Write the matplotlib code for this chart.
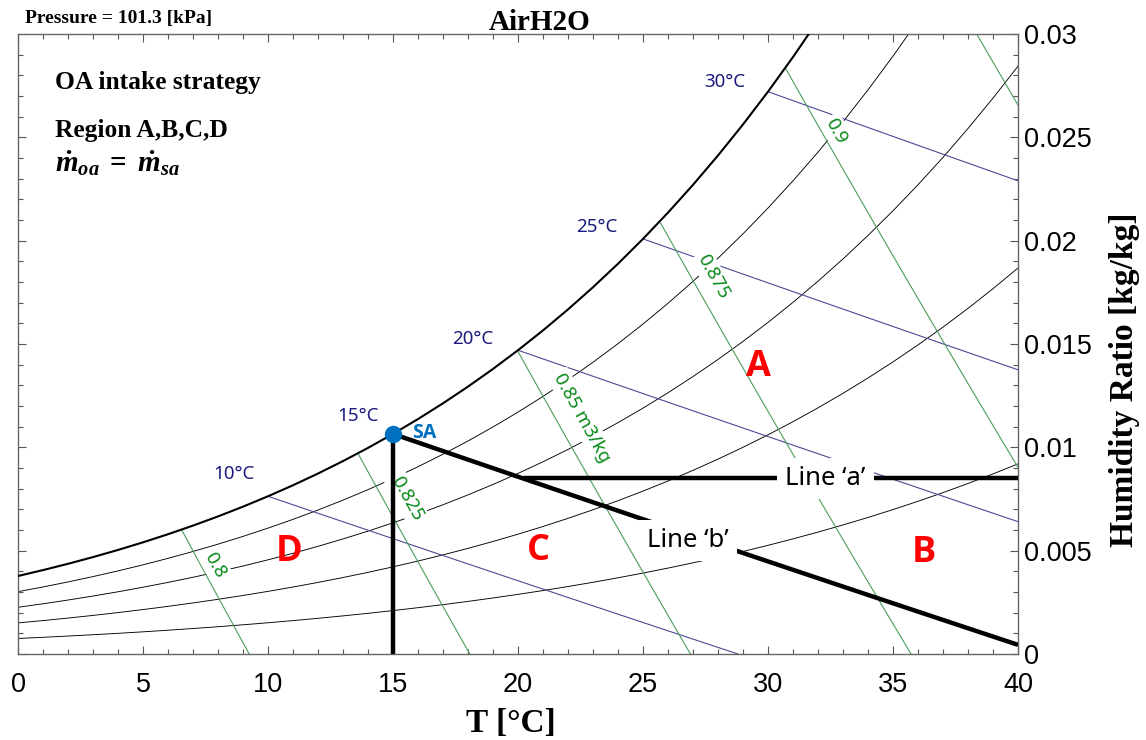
import numpy as np
import matplotlib
matplotlib.use('Agg')
import matplotlib.pyplot as plt
from matplotlib.ticker import MultipleLocator

plt.rcParams['mathtext.fontset'] = 'custom'
plt.rcParams['mathtext.rm'] = 'Liberation Serif:weight=bold'
plt.rcParams['mathtext.it'] = 'Liberation Serif:style=italic:weight=bold'
plt.rcParams['mathtext.bf'] = 'Liberation Serif:weight=bold'

# chart data
PRESSURE = 101.325  # kPa

# saturation pressure of water [kPa] from steam tables, 0..40 C
temps = np.arange(0, 41)
p_sat = np.array([0.6112, 0.6571, 0.7060, 0.7581, 0.8135, 0.8726, 0.9354, 1.0021,
                  1.0730, 1.1482, 1.2282, 1.3129, 1.4028, 1.4981, 1.5989, 1.7057,
                  1.8188, 1.9383, 2.0647, 2.1982, 2.3392, 2.4881, 2.6452, 2.8109,
                  2.9856, 3.1697, 3.3637, 3.5679, 3.7828, 4.0089, 4.2467, 4.4966,
                  4.7592, 5.0351, 5.3247, 5.6286, 5.9475, 6.2818, 6.6324, 6.9997,
                  7.3844])

rh_levels = [0.2, 0.4, 0.6, 0.8]
wb_temps = [10, 15, 20, 25, 30]
wb_labels = ['10°C', '15°C', '20°C', '25°C', '30°C']
vol_levels = [0.8, 0.825, 0.85, 0.875, 0.9, 0.925]
vol_labels = ['0.8', '0.825', '0.85 m3/kg', '0.875', '0.9']

sa_temp = 15
line_a_w = 0.0085
x_ticks = [0, 5, 10, 15, 20, 25, 30, 35, 40]
y_ticks = [0, 0.005, 0.01, 0.015, 0.02, 0.025, 0.03]
y_tick_labels = ['0', '0.005', '0.01', '0.015', '0.02', '0.025', '0.03']

# label placement (data coords)
wb_label_pos = [(8.64, 0.00869), (13.6, 0.01152), (18.2, 0.01524), (23.14, 0.02064), (28.28, 0.0277)]
vol_label_pos = [(7.88, 0.00431), (15.56, 0.0075), (22.56, 0.01142), (27.8, 0.01824), (32.72, 0.02531)]
region_pos = {'A': (29.6, 0.01389), 'B': (36.24, 0.00489), 'C': (20.8, 0.00498), 'D': (10.84, 0.00494)}

NAVY_TXT = '#1b1b7d'
NAVY = '#4b4b98'
GREEN_TXT = '#0a8a1a'
GREEN = '#4a9e5c'
SANS = ['Noto Sans', 'DejaVu Sans']
SANS_BOLD = ['Open Sans', 'DejaVu Sans']


def hum_ratio(pv):
    return 0.622 * pv / (PRESSURE - pv)


w_sat = hum_ratio(p_sat)


def wet_bulb_line(twb):
    ws = w_sat[twb]
    t_end = min(40.0, twb + (2501 - 2.326 * twb) * ws / 1.006)
    t = np.linspace(twb, t_end, 60)
    w = ((2501 - 2.326 * twb) * ws - 1.006 * (t - twb)) / (2501 + 1.86 * t - 4.186 * twb)
    return t, w


def volume_line(v):
    w = np.linspace(0, 0.032, 400)
    t = v * PRESSURE / (0.287042 * (1 + 1.607858 * w)) - 273.15
    keep = w <= np.interp(t, temps, w_sat, right=1)
    return t[keep], w[keep]


fig = plt.figure(figsize=(11.46, 7.40), dpi=100)
ax = fig.add_axes([18 / 1146, 1 - 654 / 740, 1000 / 1146, 620 / 740])

# saturation + relative humidity curves
ax.plot(temps, w_sat, color='black', lw=1.5, zorder=3)
for phi in rh_levels:
    ax.plot(temps, hum_ratio(phi * p_sat), color='black', lw=0.65, zorder=2)

# wet bulb lines
for twb, lab, pos in zip(wb_temps, wb_labels, wb_label_pos):
    t, w = wet_bulb_line(twb)
    ax.plot(t, w, color=NAVY, lw=0.8, zorder=2)
    ax.text(pos[0], pos[1], lab, color=NAVY_TXT, fontsize=13.5, family=SANS,
            ha='center', va='center', zorder=6)

# specific volume lines
for i, v in enumerate(vol_levels):
    t, w = volume_line(v)
    ax.plot(t, w, color=GREEN, lw=0.8, zorder=2)
    if i < len(vol_labels):
        ax.text(vol_label_pos[i][0], vol_label_pos[i][1], vol_labels[i], color=GREEN_TXT,
                fontsize=13.5, family=SANS, rotation=-61, rotation_mode='anchor',
                ha='center', va='center', zorder=3.5,
                bbox=dict(facecolor='white', edgecolor='none', pad=2))

# process lines
t_b, w_b = wet_bulb_line(sa_temp)
ax.plot(t_b, w_b, color='black', lw=3.2, zorder=4, solid_capstyle='butt')
ax.plot([sa_temp, sa_temp], [0, w_sat[sa_temp]], color='black', lw=3.2, zorder=4,
        solid_capstyle='butt')
t_a0 = np.interp(line_a_w, w_b[::-1], t_b[::-1])
ax.plot([t_a0, 40], [line_a_w, line_a_w], color='black', lw=3.2, zorder=4,
        solid_capstyle='butt')

ax.plot(sa_temp, w_sat[sa_temp], 'o', color='#0070c0', ms=11.5, zorder=7)
ax.text(16.25, 0.01067, 'SA', color='#0070c0', fontsize=14, fontweight='bold',
        family=SANS_BOLD, ha='center', va='center', zorder=7)

ax.text(32.3, line_a_w, 'Line \u2018a\u2019', fontsize=18.5, family=SANS,
        ha='center', va='center', zorder=6,
        bbox=dict(facecolor='white', edgecolor='none', pad=6))
ax.text(26.8, 0.0055, 'Line \u2018b\u2019', fontsize=18.5, family=SANS,
        ha='center', va='center', zorder=6,
        bbox=dict(facecolor='white', edgecolor='none', pad=6))

for name, (x, y) in region_pos.items():
    ax.text(x, y, name, color='#ff0000', fontsize=26, fontweight='bold',
            family=SANS_BOLD, ha='center', va='center', zorder=6)

# axes
ax.set_xlim(0, 40)
ax.set_ylim(0, 0.03)
ax.set_xticks(x_ticks)
ax.set_yticks(y_ticks)
ax.set_yticklabels(y_tick_labels)
ax.xaxis.set_minor_locator(MultipleLocator(1))
ax.yaxis.set_minor_locator(MultipleLocator(0.001))
ax.tick_params(which='both', direction='in', top=True, right=True, left=True,
               labelleft=False, labelright=True, colors='#555555',
               labelcolor='black', labelsize=19.5)
ax.tick_params(which='major', length=6, width=0.8)
ax.tick_params(which='minor', length=3.5, width=0.8)
ax.tick_params(axis='x', pad=13)
ax.tick_params(axis='y', pad=4)
for lab in ax.get_xticklabels() + ax.get_yticklabels():
    lab.set_family('Liberation Sans')
for sp in ax.spines.values():
    sp.set_color('#666666')
    sp.set_linewidth(1)

ax.yaxis.set_label_position('right')
ax.set_ylabel('Humidity Ratio [kg/kg]', family='Liberation Serif', fontweight='bold',
              fontsize=24, ha='center', va='center')
ax.yaxis.set_label_coords((1124 - 18) / 1000, (654 - 380) / 620)
ax.set_xlabel('T [°C]', family='Liberation Serif', fontweight='bold', fontsize=24,
              ha='center', va='center')
ax.xaxis.set_label_coords((511 - 18) / 1000, -(724 - 654) / 620)

fig.text(25 / 1146, 1 - 18 / 740, 'Pressure = 101.3 [kPa]', family='Liberation Serif',
         fontweight='bold', fontsize=14, va='center')
fig.text(540 / 1146, 1 - 22 / 740, 'AirH2O', family='Liberation Serif',
         fontweight='bold', fontsize=21, va='center', ha='center')
fig.text(55 / 1146, 1 - 83 / 740, 'OA intake strategy', family='Liberation Serif',
         fontweight='bold', fontsize=18.4, va='center')
fig.text(55 / 1146, 1 - 131 / 740, 'Region A,B,C,D', family='Liberation Serif',
         fontweight='bold', fontsize=18.4, va='center')
fig.text(55 / 1146, 1 - 163 / 740, r'$\dot{m}_{oa}\;=\;\dot{m}_{sa}$', fontsize=21,
         va='center')

fig.savefig('out.png', dpi=100)
